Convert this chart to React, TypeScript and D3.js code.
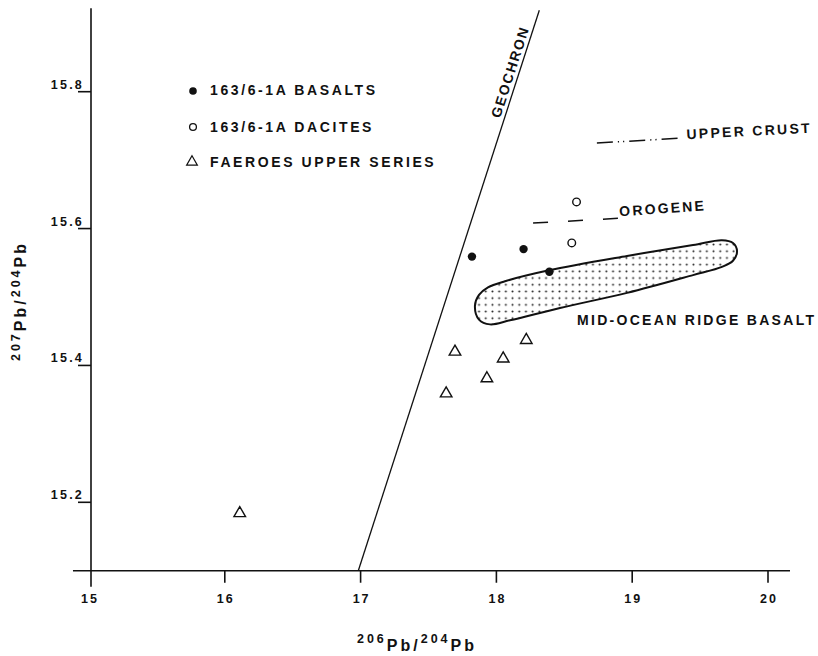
import React from 'react';
import * as d3 from 'd3';

// ---- data ----
const xTicks = [15, 16, 17, 18, 19, 20];
const yTicks = [15.2, 15.4, 15.6, 15.8];

const basaltX = [17.82, 18.2, 18.39];
const basaltY = [15.559, 15.57, 15.537];

const daciteX = [18.59, 18.555];
const daciteY = [15.639, 15.579];

const faeroesX = [16.11, 17.63, 17.695, 17.93, 18.05, 18.22];
const faeroesY = [15.184, 15.359, 15.42, 15.381, 15.41, 15.437];

const geochronX = [16.983, 18.316];
const geochronY = [15.1, 15.919];

const upperCrustX = [18.74, 19.35];
const upperCrustY = [15.725, 15.732];

const orogeneX = [18.27, 18.9];
const orogeneY = [15.608, 15.615];

const morbX = [17.842, 17.872, 17.938, 18.063, 18.387, 18.962, 19.448, 19.661, 19.742, 19.772, 19.742, 19.661, 19.448, 18.962, 18.468, 18.1, 17.953, 17.872];
const morbY = [15.487, 15.503, 15.514, 15.523, 15.539, 15.56, 15.576, 15.583, 15.579, 15.567, 15.553, 15.544, 15.532, 15.506, 15.484, 15.466, 15.46, 15.467];

const legendLabels = ['163/6-1A BASALTS', '163/6-1A DACITES', 'FAEROES UPPER SERIES'];
const curveLabels = ['GEOCHRON', 'UPPER CRUST', 'OROGENE', 'MID-OCEAN RIDGE BASALT'];

const W = 818;
const H = 656;
const FONT = "'Liberation Sans', Arial, Helvetica, sans-serif";
const INK = '#111';

export default function App() {
  const x = d3.scaleLinear().domain([15, 20]).range([89, 768]);
  const y = d3.scaleLinear().domain([15.2, 15.8]).range([502.3, 91.7]);

  const xAxisY = y(15.1);
  const yAxisTop = y(15.922);
  const xAxisLeft = x(14.882);
  const xAxisRight = x(20.162);
  const yAxisX = x(15) + 2;

  const line = d3.line<[number, number]>().x(d => x(d[0])).y(d => y(d[1]));
  const morbPath = d3
    .line<[number, number]>()
    .x(d => x(d[0]))
    .y(d => y(d[1]))
    .curve(d3.curveCatmullRomClosed.alpha(0.5))(morbX.map((v, i) => [v, morbY[i]]) as [number, number][]);

  const tri = d3.symbol().type(d3.symbolTriangle).size(58)()!;
  const triLegend = d3.symbol().type(d3.symbolTriangle).size(50)()!;

  // geochron label geometry
  const g0: [number, number] = [x(geochronX[0]), y(geochronY[0])];
  const g1: [number, number] = [x(geochronX[1]), y(geochronY[1])];
  const gAngle = (Math.atan2(g1[1] - g0[1], g1[0] - g0[0]) * 180) / Math.PI;
  const gt = 0.885;
  const gPx = g0[0] + (g1[0] - g0[0]) * gt;
  const gPy = g0[1] + (g1[1] - g0[1]) * gt;
  const len = Math.hypot(g1[0] - g0[0], g1[1] - g0[1]);
  const nx = (g1[1] - g0[1]) / len;
  const ny = -(g1[0] - g0[0]) / len;
  const gLx = gPx + nx * 4;
  const gLy = gPy + ny * 4;

  const ucEnd: [number, number] = [x(upperCrustX[1]), y(upperCrustY[1])];
  const orEnd: [number, number] = [x(orogeneX[1]), y(orogeneY[1])];

  const textStyle = {
    fontFamily: FONT,
    fontWeight: 700 as const,
    fill: INK,
  };

  return (
    <svg width={W} height={H} style={{ position: 'absolute', left: 0, top: 0, background: '#fff' }}>
      <defs>
        <pattern id="stipple" patternUnits="userSpaceOnUse" width={6.7} height={6.7}>
          <circle cx={3.35} cy={3.35} r={1} fill="#222" />
        </pattern>
      </defs>

      {/* axes */}
      <line x1={xAxisLeft} x2={xAxisRight} y1={xAxisY} y2={xAxisY} stroke={INK} strokeWidth={1.6} />
      <line x1={yAxisX} x2={yAxisX} y1={yAxisTop} y2={xAxisY + 16} stroke={INK} strokeWidth={1.6} />

      {xTicks.map(t => (
        <g key={'xt' + t}>
          {t !== 15 && <line x1={x(t)} x2={x(t)} y1={xAxisY} y2={xAxisY + 12} stroke={INK} strokeWidth={1.6} />}
          <text x={x(t) + 1} y={603} textAnchor="middle" fontSize={12.5} letterSpacing={2} style={textStyle}>
            {t}
          </text>
        </g>
      ))}

      {yTicks.map(t => (
        <g key={'yt' + t}>
          <line x1={yAxisX - 13} x2={yAxisX} y1={y(t)} y2={y(t)} stroke={INK} strokeWidth={1.6} />
          <text x={yAxisX - 7} y={y(t) - 3} textAnchor="end" fontSize={12.5} letterSpacing={2.2} style={textStyle}>
            {t.toFixed(1)}
          </text>
        </g>
      ))}

      {/* axis titles */}
      <text x={417} y={651} textAnchor="middle" fontSize={16} letterSpacing={3} style={textStyle}>
        <tspan fontSize={12.5} dy={-8}>206</tspan>
        <tspan dy={8}>Pb/</tspan>
        <tspan fontSize={12.5} dy={-8}>204</tspan>
        <tspan dy={8}>Pb</tspan>
      </text>
      <text transform="translate(26,301) rotate(-90)" textAnchor="middle" fontSize={16} letterSpacing={3} style={textStyle}>
        <tspan fontSize={12.5} dy={-6}>207</tspan>
        <tspan dy={6}>Pb/</tspan>
        <tspan fontSize={12.5} dy={-6}>204</tspan>
        <tspan dy={6}>Pb</tspan>
      </text>

      {/* MORB field */}
      <path d={morbPath || ''} fill="url(#stipple)" stroke={INK} strokeWidth={2} />
      <text x={577} y={325} fontSize={14} letterSpacing={2.3} style={textStyle}>
        {curveLabels[3]}
      </text>

      {/* geochron */}
      <path
        d={line(geochronX.map((v, i) => [v, geochronY[i]]) as [number, number][]) || ''}
        fill="none"
        stroke={INK}
        strokeWidth={1.3}
      />
      <text
        transform={`translate(${gLx},${gLy}) rotate(${gAngle})`}
        textAnchor="middle"
        fontSize={14}
        letterSpacing={1.6}
        style={textStyle}
      >
        {curveLabels[0]}
      </text>

      {/* upper crust */}
      <path
        d={line(upperCrustX.map((v, i) => [v, upperCrustY[i]]) as [number, number][]) || ''}
        fill="none"
        stroke={INK}
        strokeWidth={1.5}
        strokeDasharray="16,5,1.2,4,1.2,5"
      />
      <text
        transform={`translate(${ucEnd[0] + 7},${ucEnd[1] + 1}) rotate(-3)`}
        fontSize={14}
        letterSpacing={2.3}
        style={textStyle}
      >
        {curveLabels[1]}
      </text>

      {/* orogene */}
      <path
        d={line(orogeneX.map((v, i) => [v, orogeneY[i]]) as [number, number][]) || ''}
        fill="none"
        stroke={INK}
        strokeWidth={1.5}
        strokeDasharray="15,20"
      />
      <text
        transform={`translate(${orEnd[0] + 1},${orEnd[1] - 2}) rotate(-4)`}
        fontSize={14}
        letterSpacing={2.2}
        style={textStyle}
      >
        {curveLabels[2]}
      </text>

      {/* data points */}
      {basaltX.map((v, i) => (
        <circle key={'b' + i} cx={x(v)} cy={y(basaltY[i])} r={4.2} fill={INK} />
      ))}
      {daciteX.map((v, i) => (
        <circle key={'d' + i} cx={x(v)} cy={y(daciteY[i])} r={3.8} fill="#fff" stroke={INK} strokeWidth={1.4} />
      ))}
      {faeroesX.map((v, i) => (
        <path
          key={'f' + i}
          d={tri}
          transform={`translate(${x(v)},${y(faeroesY[i])})`}
          fill="none"
          stroke={INK}
          strokeWidth={1.4}
        />
      ))}

      {/* legend */}
      <circle cx={193} cy={91} r={3.8} fill={INK} />
      <circle cx={193} cy={127} r={3.4} fill="none" stroke={INK} strokeWidth={1.3} />
      <path d={triLegend} transform="translate(192,162)" fill="none" stroke={INK} strokeWidth={1.2} />
      {legendLabels.map((l, i) => (
        <text key={l} x={210} y={[95, 132, 167][i]} fontSize={14} letterSpacing={2.6} style={textStyle}>
          {l}
        </text>
      ))}
    </svg>
  );
}
